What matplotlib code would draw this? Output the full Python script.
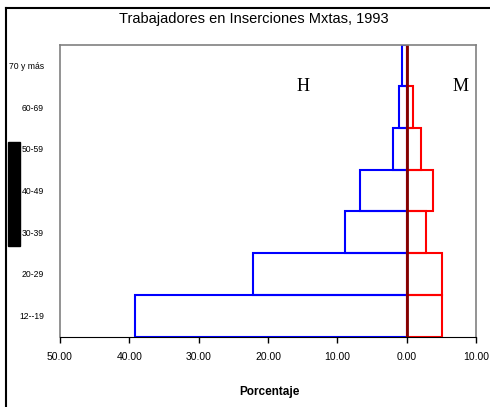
import matplotlib
matplotlib.use('Agg')
import matplotlib.pyplot as plt
from matplotlib.lines import Line2D
from matplotlib.patches import Rectangle

grupos = ['12--19', '20-29', '30-39', '40-49', '50-59', '60-69', '70 y más']
hombres = [39.2, 22.2, 8.95, 6.7, 2.0, 1.05, 0.72]
mujeres = [5.05, 5.05, 2.8, 3.75, 2.05, 0.85, 0.05]
xticks = [-50, -40, -30, -20, -10, 0, 10]

plt.rcParams['font.family'] = ['Liberation Sans', 'DejaVu Sans']

fig = plt.figure(figsize=(4.9, 4.07), dpi=100)
ax = fig.add_axes([60/490, 1 - 336.5/407, 416/490, 291.8/407])

y = range(len(grupos))
ax.barh(y, [-v for v in hombres], height=1, fill=False, edgecolor='#0000ff', lw=1.5)
ax.barh(y, mujeres, height=1, fill=False, edgecolor='#ff0000', lw=1.5)
ax.axvline(0, color='#800000', lw=2)

ax.set_xlim(-50, 10)
ax.set_ylim(-0.5, 6.5)
ax.set_xticks(xticks)
ax.set_xticklabels(['%.2f' % abs(t) for t in xticks], fontsize=7.5)
ax.set_yticks(list(y))
ax.set_yticklabels(grupos, fontsize=6.2)
ax.tick_params(axis='y', length=0, pad=11.5)
ax.tick_params(axis='x', length=4, width=1, pad=7, direction='out')
for s in ['top', 'right', 'left']:
    ax.spines[s].set_color('#808080')
    ax.spines[s].set_linewidth(1.2)
ax.spines['bottom'].set_color('black')

ax.text(-15, 5.5, 'H', family='Liberation Serif', fontsize=13, ha='center', va='center')
ax.text(7.7, 5.5, 'M', family='Liberation Serif', fontsize=13, ha='center', va='center')

fig.text(254/490, 1 - 19/407, 'Trabajadores en Inserciones Mxtas, 1993', fontsize=10.5,
         ha='center', va='center')
fig.text(269/490, 1 - 392/407, 'Porcentaje', fontsize=8.5, fontweight='bold',
         ha='center', va='center')

# marco de la figura (solo arriba e izquierda)
fig.add_artist(Line2D([6/490, 1], [1 - 8/407, 1 - 8/407], color='black', lw=1.5))
fig.add_artist(Line2D([6/490, 6/490], [0, 1 - 8/407], color='black', lw=1.5))
fig.add_artist(Rectangle((8/490, 1 - 246/407), 12/490, 104/407, color='black', zorder=0))

fig.savefig('out.png', dpi=100)
